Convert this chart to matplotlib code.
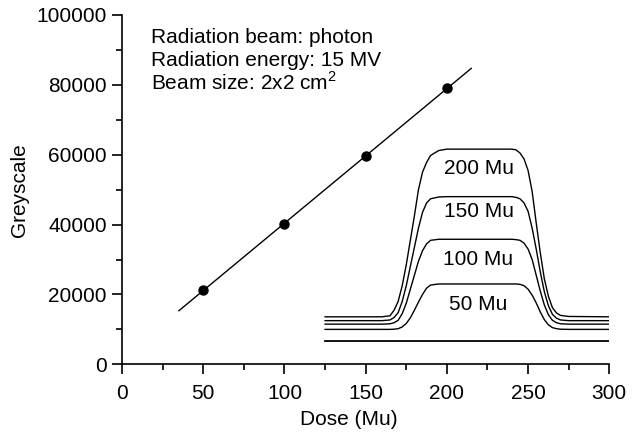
import matplotlib
matplotlib.use('Agg')
import matplotlib.pyplot as plt
import numpy as np
from matplotlib.ticker import MultipleLocator

plt.rcParams['font.family'] = ['Liberation Sans', 'DejaVu Sans']
plt.rcParams['mathtext.fontset'] = 'custom'
plt.rcParams['mathtext.rm'] = 'Liberation Sans'

# calibration points
dose = [50, 100, 150, 200]
grey = [21200, 40300, 59600, 79000]
fit_range = [35, 215]

# beam profiles (inset, drawn in the same data space)
prof_x = [125, 160, 165, 167.5, 170, 172.5, 175, 177.5, 180, 182.5, 185, 187.5, 190, 195, 200,
          240, 242.5, 245, 247.5, 250, 252.5, 255, 257.5, 260, 262.5, 265, 267.5, 270, 275, 300]
prof_200 = [13600, 13600, 13900, 15500, 18000, 22500, 28500, 35500, 42500, 50000, 55000, 57800, 59800, 61200, 61600,
            61600, 61400, 60500, 58800, 55500, 49500, 40500, 32000, 24500, 19500, 16200, 14700, 14000, 13700, 13600]
prof_150 = [12500, 12500, 12700, 13400, 14800, 18000, 22500, 28000, 33500, 39000, 43500, 46200, 47400, 47900, 48000,
            48000, 47800, 47400, 46200, 43800, 39000, 33000, 26500, 20800, 16800, 14300, 13200, 12700, 12500, 12500]
prof_100 = [11500, 11500, 11600, 11900, 12600, 14500, 17500, 21500, 25500, 29500, 32500, 34500, 35500, 35800, 35800,
            35800, 35700, 35500, 34700, 33000, 30000, 25500, 21000, 17000, 14200, 12600, 11900, 11600, 11500, 11500]
prof_50 = [10000, 10000, 10000, 10050, 10200, 10700, 11700, 13300, 15500, 17800, 20000, 21800, 22700, 23000, 23000,
           23000, 23000, 22900, 22500, 21500, 19800, 17600, 15000, 12800, 11300, 10500, 10200, 10050, 10000, 10000]
baseline_x = [125, 300]
baseline_y = [6800, 6800]
prof_labels = ['200 Mu', '150 Mu', '100 Mu', '50 Mu']
label_y = [56200, 43700, 29900, 17000]

fig = plt.figure(figsize=(6.39, 4.36), dpi=100)
ax = fig.add_axes([0.191, 0.1644, 0.7625, 0.8012])

# linear fit
k, b = np.polyfit(dose, grey, 1)
fx = np.array(fit_range)
ax.plot(fx, k * fx + b, color='black', lw=1.0)
ax.plot(dose, grey, 'o', color='black', ms=6.5)

for p in [prof_200, prof_150, prof_100, prof_50]:
    ax.plot(prof_x, p, color='black', lw=1.0)
ax.plot(baseline_x, baseline_y, color='black', lw=1.3)
for lab, ly in zip(prof_labels, label_y):
    ax.text(219.5, ly, lab, fontsize=15, ha='center', va='center')

ax.text(18, 92070, 'Radiation beam: photon', fontsize=15, va='baseline')
ax.text(18, 85400, 'Radiation energy: 15 MV', fontsize=15, va='baseline')
ax.text(18, 78530, 'Beam size: 2x2 cm$^{2}$', fontsize=15, va='baseline')

ax.set_xlim(0, 300)
ax.set_ylim(0, 100000)
ax.xaxis.set_major_locator(MultipleLocator(50))
ax.xaxis.set_minor_locator(MultipleLocator(25))
ax.yaxis.set_major_locator(MultipleLocator(20000))
ax.yaxis.set_minor_locator(MultipleLocator(10000))
ax.tick_params(which='major', length=7, width=1.2, labelsize=15)
ax.tick_params(which='minor', length=4, width=1.2)
ax.tick_params(axis='x', which='major', pad=7)
ax.tick_params(axis='y', which='major', pad=4)
for s in ['top', 'right']:
    ax.spines[s].set_visible(False)
for s in ['left', 'bottom']:
    ax.spines[s].set_linewidth(1.2)

ax.set_xlabel('Dose (Mu)', fontsize=15)
ax.xaxis.set_label_coords(0.4655, -0.13)
ax.set_ylabel('Greyscale', fontsize=15)
ax.yaxis.set_label_coords(-0.19, 0.5)

fig.savefig('out.png', dpi=100)
